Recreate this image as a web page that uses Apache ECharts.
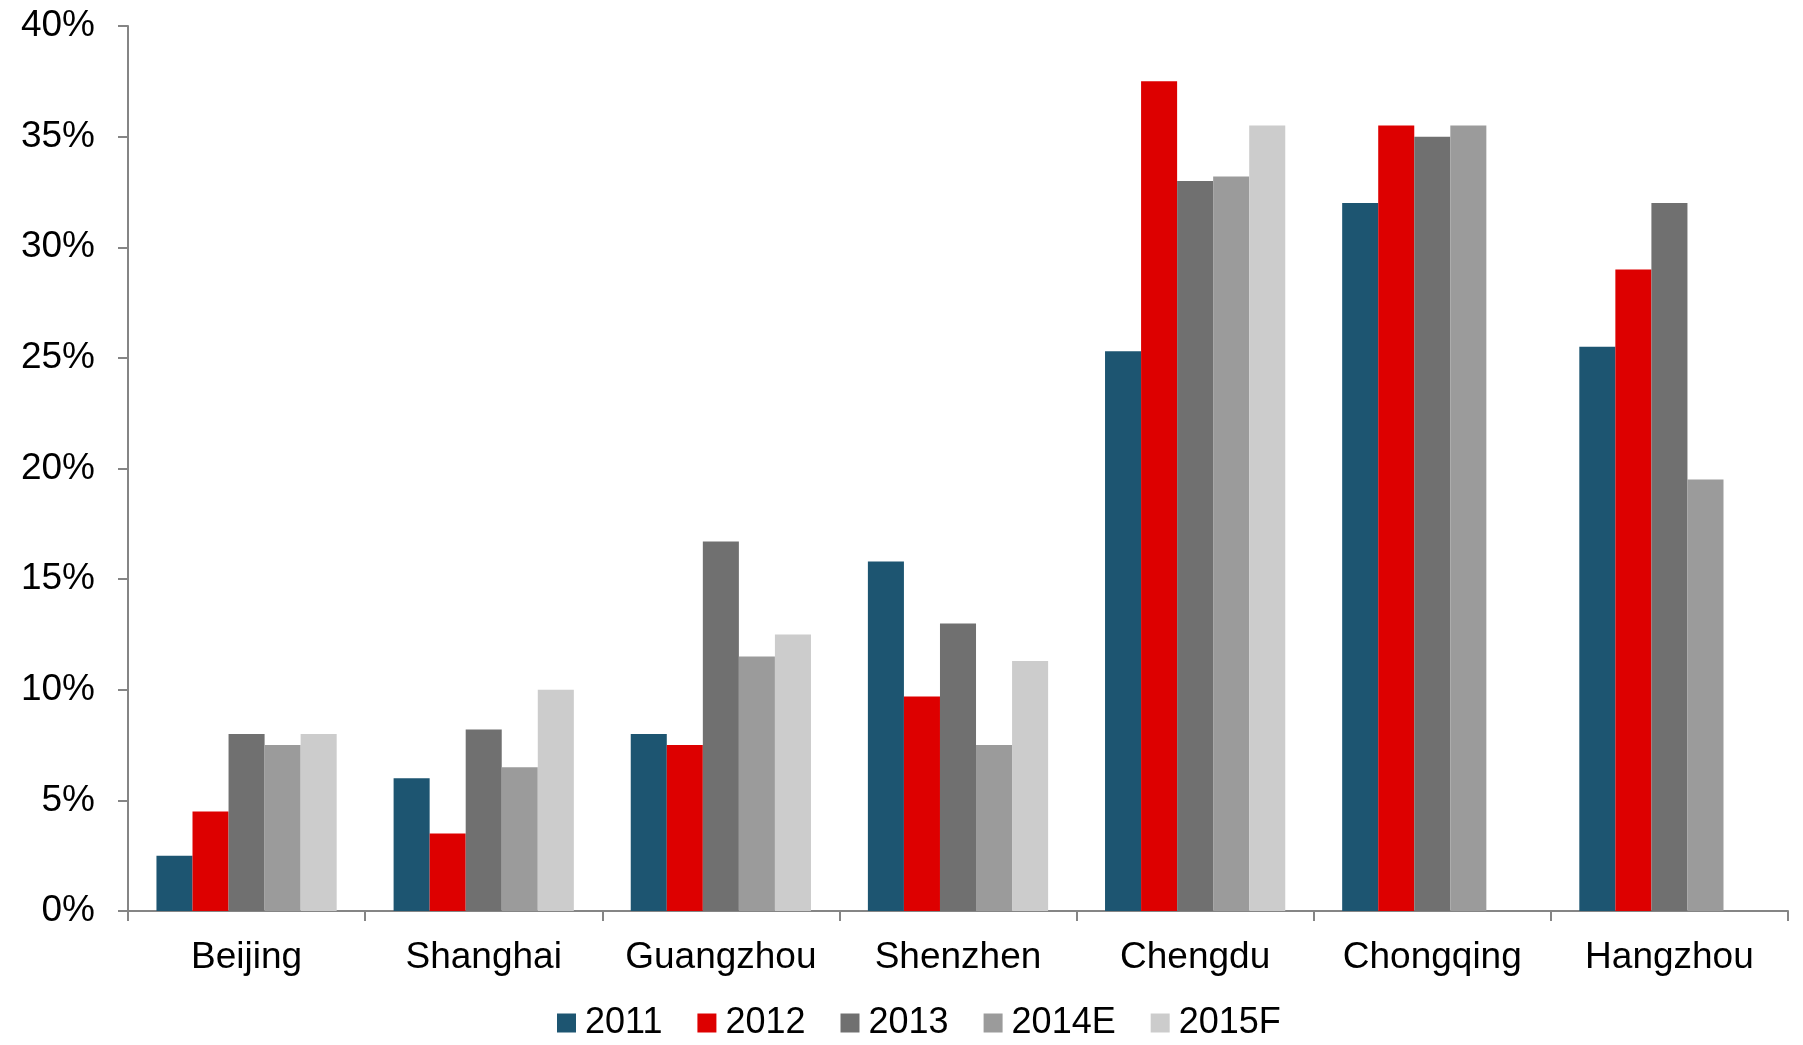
<!DOCTYPE html>
<html>
<head>
<meta charset="utf-8">
<style>
html,body{margin:0;padding:0;background:#fff;}
#chart{width:1803px;height:1045px;}
</style>
<script src="https://cdn.jsdelivr.net/npm/echarts@6/dist/echarts.min.js"></script>
</head>
<body>
<div id="chart"></div>
<script>
const cities = ['Beijing','Shanghai','Guangzhou','Shenzhen','Chengdu','Chongqing','Hangzhou'];
const seriesNames = ['2011','2012','2013','2014E','2015F'];
const v2011  = [2.5, 6.0, 8.0, 15.8, 25.3, 32.0, 25.5];
const v2012  = [4.5, 3.5, 7.5, 9.7, 37.5, 35.5, 29.0];
const v2013  = [8.0, 8.2, 16.7, 13.0, 33.0, 35.0, 32.0];
const v2014E = [7.5, 6.5, 11.5, 7.5, 33.2, 35.5, 19.5];
const v2015F = [8.0, 10.0, 12.5, 11.3, 35.5, null, null];
const colors = ['#1D5571','#DD0000','#707070','#9B9B9B','#CCCCCC'];
const values = [v2011, v2012, v2013, v2014E, v2015F];

const chart = echarts.init(document.getElementById('chart'));
const font = 'Liberation Sans, Arial, sans-serif';
chart.setOption({
  animation: false,
  color: colors,
  grid: {left: 128, right: 15, top: 26, bottom: 134, containLabel: false},
  legend: {
    left: 552, top: 1000,
    itemWidth: 19, itemHeight: 19, itemGap: 35,
    icon: 'rect',
    textStyle: {fontFamily: font, fontSize: 36, color: '#000', padding: [0,0,0,4]},
    data: seriesNames
  },
  xAxis: {
    type: 'category',
    data: cities,
    axisLine: {lineStyle: {color: '#858585', width: 2}},
    axisTick: {show: true, length: 10, lineStyle: {color: '#858585', width: 2}},
    axisLabel: {fontFamily: font, fontSize: 37, color: '#000', margin: 28, interval: 0}
  },
  yAxis: {
    type: 'value',
    min: 0, max: 40, interval: 5,
    splitLine: {show: false},
    axisLine: {show: true, lineStyle: {color: '#858585', width: 2}},
    axisTick: {show: true, length: 10, lineStyle: {color: '#858585', width: 2}},
    axisLabel: {fontFamily: font, fontSize: 37, color: '#000', margin: 33, formatter: '{value}%'}
  },
  series: seriesNames.map((n, i) => ({
    name: n,
    type: 'bar',
    data: values[i],
    barGap: '0%',
    barCategoryGap: '24%',
    itemStyle: {color: colors[i]}
  }))
});
</script>
</body>
</html>
